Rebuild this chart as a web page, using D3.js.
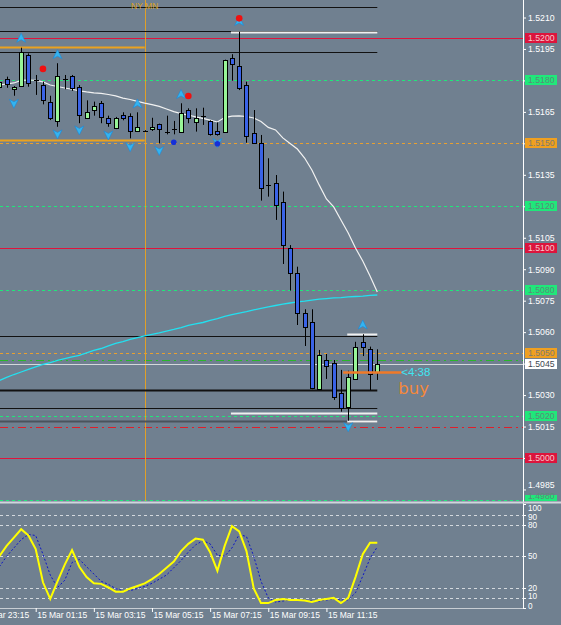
<!DOCTYPE html>
<html><head><meta charset="utf-8">
<script src="https://cdn.jsdelivr.net/npm/d3@7"></script>
<style>html,body{margin:0;padding:0;background:#708090;overflow:hidden}svg{display:block}</style>
</head><body><svg id="c" width="561" height="625"></svg>
<script>
// ---------- DATA (M15 bars, 15 Mar 00:00 .. 13:00) ----------
const open  = [1.51767,1.51807,1.51759,1.51775,1.51921,1.51802,1.51778,1.51696,1.51607,1.51807,1.51821,1.51769,1.51619,1.51658,1.51691,1.51619,1.51575,1.51635,1.51630,1.51559,1.51561,1.51567,1.51591,1.51556,1.51568,1.51556,1.51658,1.51603,1.51632,1.51607,1.51558,1.51556,1.51906,1.51869,1.51778,1.51548,1.51500,1.51302,1.51310,1.51219,1.51000,1.50881,1.50690,1.50650,1.50328,1.50467,1.50451,1.50308,1.50245,1.50375,1.50552,1.50518,1.50411];
const high  = [1.51802,1.51818,1.51773,1.51956,1.51929,1.51826,1.51794,1.51727,1.51882,1.51826,1.51826,1.51778,1.51705,1.51699,1.51702,1.51632,1.51626,1.51648,1.51643,1.51648,1.51563,1.51622,1.51594,1.51632,1.51607,1.51691,1.51667,1.51667,1.51670,1.51610,1.51600,1.51899,1.51925,1.52032,1.51794,1.51659,1.51540,1.51429,1.51349,1.51270,1.51015,1.50912,1.50709,1.50709,1.50515,1.50496,1.50467,1.50420,1.50416,1.50554,1.50590,1.50531,1.50518];
const low   = [1.51759,1.51765,1.51727,1.51775,1.51770,1.51731,1.51686,1.51611,1.51579,1.51758,1.51750,1.51596,1.51616,1.51632,1.51596,1.51579,1.51568,1.51610,1.51524,1.51556,1.51556,1.51559,1.51500,1.51543,1.51543,1.51553,1.51596,1.51556,1.51588,1.51537,1.51537,1.51553,1.51799,1.51754,1.51503,1.51500,1.51227,1.51246,1.51135,1.50925,1.50798,1.50634,1.50534,1.50328,1.50324,1.50377,1.50277,1.50221,1.50178,1.50373,1.50486,1.50324,1.50372];
const close = [1.51794,1.51784,1.51770,1.51934,1.51786,1.51800,1.51705,1.51619,1.51821,1.51805,1.51765,1.51635,1.51648,1.51680,1.51627,1.51596,1.51622,1.51622,1.51559,1.51578,1.51559,1.51578,1.51568,1.51554,1.51566,1.51646,1.51619,1.51619,1.51631,1.51543,1.51543,1.51897,1.51878,1.51763,1.51535,1.51504,1.51286,1.51300,1.51206,1.51015,1.50883,1.50693,1.50626,1.50334,1.50489,1.50439,1.50289,1.50237,1.50388,1.50528,1.50528,1.50400,1.50450];
const maFast = [1.51778,1.51783,1.51788,1.51800,1.51802,1.51800,1.51793,1.51778,1.51771,1.51764,1.51758,1.51750,1.51745,1.51741,1.51738,1.51733,1.51726,1.51716,1.51709,1.51700,1.51692,1.51685,1.51676,1.51664,1.51651,1.51642,1.51635,1.51626,1.51619,1.51611,1.51602,1.51623,1.51630,1.51631,1.51628,1.51621,1.51604,1.51576,1.51564,1.51526,1.51499,1.51473,1.51430,1.51373,1.51302,1.51235,1.51197,1.51135,1.51073,1.51001,1.50939,1.50868,1.50791];
const maSlow = [1.50369,1.50384,1.50398,1.50410,1.50422,1.50434,1.50446,1.50455,1.50465,1.50474,1.50482,1.50489,1.50501,1.50513,1.50522,1.50534,1.50546,1.50555,1.50565,1.50574,1.50582,1.50589,1.50596,1.50605,1.50613,1.50622,1.50632,1.50639,1.50646,1.50656,1.50665,1.50675,1.50684,1.50691,1.50698,1.50706,1.50713,1.50720,1.50727,1.50734,1.50739,1.50744,1.50748,1.50753,1.50757,1.50760,1.50763,1.50765,1.50768,1.50770,1.50772,1.50775,1.50777];
const stochMain = [50,60,68,76,70,57,25,9,26,42,56,40,30,24,23.5,20,16,16,19,21.5,24,28,33,39,45,55,62,67,66,54,36,60,79,74,55,19,5,5,8,9,8,8,7.5,6,8,9,10,5,10,30,52,63,63];
const stochSignal = [40,50,58,66,71,70,52,32,20,27,44,47,40,33,26,23,19,17,17,19,21,24,28,32,39,46,54,61,65,62,51,50,58,71,69,50,26,10,6,7,8,8,8,7,7,8,9,8,8,15,31,48,59];

const timeTickBars   = [-3,5,13,21,29,37,45];
const timeTickLabels = ["14 Mar 23:15","15 Mar 01:15","15 Mar 03:15","15 Mar 05:15","15 Mar 07:15","15 Mar 09:15","15 Mar 11:15"];
const priceTicks = [1.5210,1.5195,1.5180,1.5165,1.5150,1.5135,1.5120,1.5105,1.5090,1.5075,1.5060,1.5045,1.5030,1.5015,1.5000,1.4985];
const stochLevels = [90,80,50,20,10];
const stochLabels = [100,90,80,50,20,10,0];

// horizontal objects
const blackLevels = [1.52152,1.52035,1.51936,1.50582,1.50322,1.50236];
const greyLevel = 1.50178;
const whiteLevels = [1.52032,1.50590,1.50216,1.50178];
const whiteFromBar = [32,48,32,48];
const orangeSolidLevels = [1.51959,1.51518];
const greenDashLevels = [1.5180,1.5120,1.5080,1.5020,1.4980];
const orangeDashLevels = [1.5150,1.5050];
const redLevels = [1.5200,1.5100,1.5000];
const greenDashDot = 1.50467;
const redDashDot = 1.50146;
const bid = 1.50450;
const tradeLevel = 1.50409, tradeFrom = 47.3, tradeTo = 55.3;
const nyBar = 20;
const objEndBar = 52;

const upArrows   = [[3,1.52001],[8,1.51923],[19,1.51688],[25,1.51733],[33,1.52081],[50,1.50634]];
const downArrows = [[2,1.51691],[8,1.51545],[11,1.51564],[15,1.51540],[18,1.51484],[22,1.51466],[30,1.51504],[48,1.50149]];
const redDots  = [[6,1.51855],[26,1.51726],[33,1.52096]];
const blueDots = [[24,1.51505],[30,1.51498]];

// ---------- DRAWING ----------
const BG = "#708090";
const svg = d3.select("#c");
svg.append("rect").attr("width",561).attr("height",625).attr("fill",BG);
const axisX = 523, mainBottom = 501, subTop = 504, subBottom = 608;

const x  = d3.scaleLinear().domain([0,52]).range([-0.65,377.3]);
const y  = d3.scaleLinear().domain([1.5000,1.5210]).range([458,17.5]);
const ys = d3.scaleLinear().domain([0,100]).range([608.3,504.3]);

const defs = svg.append("defs");
defs.append("clipPath").attr("id","cm").append("rect").attr("x",0).attr("y",0).attr("width",axisX).attr("height",mainBottom);
defs.append("clipPath").attr("id","cs").append("rect").attr("x",0).attr("y",subTop).attr("width",axisX).attr("height",subBottom-subTop);
defs.append("clipPath").attr("id","cl").append("rect").attr("x",0).attr("y",0).attr("width",561).attr("height",mainBottom);

const main = svg.append("g").attr("clip-path","url(#cm)");
const py = p => Math.round(y(p)) + 0.5;

function hline(g, p, x1, x2, color, w, dash){
  const l = g.append("line").attr("x1",x1).attr("x2",x2).attr("y1",py(p)).attr("y2",py(p))
    .attr("stroke",color).attr("stroke-width",w);
  if (dash) l.attr("stroke-dasharray",dash);
  return l;
}
greenDashLevels.forEach(p=>hline(main,p,0,axisX,"#1fe87a",1,"3,3"));
orangeDashLevels.forEach(p=>hline(main,p,0,axisX,"#e8a030",1,"3,3"));
redLevels.forEach(p=>hline(main,p,0,axisX,"#e0143c",1));
hline(main,greenDashDot,0,axisX,"#28b828",1,"8,4,2,4");
hline(main,redDashDot,0,axisX,"#e01e2a",1,"8,4,2,4");
main.append("line").attr("x1",Math.round(x(nyBar))+0.5).attr("x2",Math.round(x(nyBar))+0.5)
  .attr("y1",0).attr("y2",mainBottom).attr("stroke","#e0a028").attr("stroke-width",1);
blackLevels.forEach((p,i)=>hline(main,p,0,x(objEndBar),"#111",i===4?2:1));
hline(main,greyLevel,0,x(objEndBar),"#4a535c",2);
orangeSolidLevels.forEach(p=>hline(main,p,0,x(nyBar),"#eba21e",2));
whiteLevels.forEach((p,i)=>hline(main,p,x(whiteFromBar[i])-1,x(objEndBar),"#f0f0f0",2));
hline(main,bid,0,axisX,"#d4d8dc",1);

const idx = d3.range(open.length);
const lineGen = arr => d3.line().x(i=>x(i)).y(i=>y(arr[i]))(idx);
main.append("path").attr("d",lineGen(maSlow)).attr("fill","none").attr("stroke","#22e0f0").attr("stroke-width",1.3);
main.append("path").attr("d",lineGen(maFast)).attr("fill","none").attr("stroke","#f2f2f2").attr("stroke-width",1.2);

idx.forEach(i=>{
  const cx = Math.round(x(i));
  main.append("line").attr("x1",cx+0.5).attr("x2",cx+0.5).attr("y1",y(high[i])).attr("y2",y(low[i]))
    .attr("stroke","#000").attr("stroke-width",1);
  const o=open[i], c=close[i];
  if (Math.abs(c-o) < 0.000025){
    main.append("line").attr("x1",cx-2).attr("x2",cx+3).attr("y1",py(o)).attr("y2",py(o)).attr("stroke","#000");
  } else {
    const top = Math.round(y(Math.max(o,c))), bot = Math.round(y(Math.min(o,c)));
    main.append("rect").attr("x",cx-1.5).attr("y",top+0.5).attr("width",4).attr("height",Math.max(1,bot-top))
      .attr("fill", c>o ? "#98f598" : "#3a63e6").attr("stroke","#000").attr("stroke-width",1);
  }
});

main.append("line").attr("x1",x(tradeFrom)).attr("x2",x(tradeTo)).attr("y1",py(tradeLevel)).attr("y2",py(tradeLevel))
  .attr("stroke","#f07a28").attr("stroke-width",2.5);
main.append("text").attr("x",x(tradeTo)).attr("y",y(tradeLevel)+4).text("<4:38")
  .attr("font-family","Liberation Sans, Arial, sans-serif").attr("font-size",11.5).attr("fill","#3fe6f2");
main.append("text").attr("x",x(tradeTo)-3).attr("y",y(tradeLevel)+22).text("buy")
  .attr("font-family","DejaVu Sans, sans-serif").attr("font-size",16.5).attr("fill","#f4883a");

const arrowUp = "M0,-5L4.5,4L0,1.5L-4.5,4Z", arrowDown = "M0,5L4.5,-4L0,-1.5L-4.5,-4Z";
upArrows.forEach(([b,p])=>main.append("path").attr("d",arrowUp).attr("transform",`translate(${x(b)},${y(p)})`)
  .attr("fill","#34b4f0").attr("stroke","#1b88d8").attr("stroke-width",0.6));
downArrows.forEach(([b,p])=>main.append("path").attr("d",arrowDown).attr("transform",`translate(${x(b)},${y(p)})`)
  .attr("fill","#34b4f0").attr("stroke","#1b88d8").attr("stroke-width",0.6));
redDots.forEach(([b,p])=>main.append("circle").attr("cx",x(b)).attr("cy",y(p)).attr("r",3.3).attr("fill","#f01010"));
blueDots.forEach(([b,p])=>main.append("circle").attr("cx",x(b)).attr("cy",y(p)).attr("r",2.8).attr("fill","#1530d8"));

main.append("text").attr("x",x(nyBar)).attr("y",9).attr("text-anchor","middle").text("NY MN")
  .attr("font-family","Liberation Sans, Arial, sans-serif").attr("font-size",8.5).attr("fill","#d8a21c");

// ---------- right price axis ----------
const font = "Liberation Sans, Arial, sans-serif";
const axisG = svg.append("g").attr("transform",`translate(${axisX},0)`).attr("clip-path","url(#cl)");
axisG.call(d3.axisRight(y).tickValues(priceTicks).tickFormat(d3.format(".4f")).tickSize(3).tickPadding(2));
axisG.select(".domain").remove();
axisG.selectAll(".tick line").attr("stroke","#fff");
axisG.selectAll(".tick text").attr("fill","#fff").attr("font-family",font).attr("font-size",8.7);
axisG.selectAll(".tick").filter(d=>Math.abs(d-1.4985)<1e-6).select("text").attr("dy","-0.2em");

const labelG = svg.append("g").attr("clip-path","url(#cl)");
function levelLabel(p, bg, fg){
  const yy = Math.round(y(p));
  labelG.append("rect").attr("x",525).attr("y",yy-5).attr("width",32).attr("height",10).attr("fill",bg);
  labelG.append("text").attr("x",528).attr("y",Math.min(yy+3,499)).text(d3.format(".4f")(p))
    .attr("font-family",font).attr("font-size",8.7).attr("fill",fg);
}
redLevels.forEach(p=>levelLabel(p,"#dc143c","#f6c8cc"));
greenDashLevels.forEach(p=>levelLabel(p,"#1fe87a","#5d8a78"));
orangeDashLevels.forEach(p=>levelLabel(p,"#f0a020","#7d7a70"));
levelLabel(bid,"#ffffff","#404850");

svg.append("line").attr("x1",axisX+0.5).attr("x2",axisX+0.5).attr("y1",0).attr("y2",subBottom).attr("stroke","#fff");

svg.append("line").attr("x1",0).attr("x2",561).attr("y1",502.5).attr("y2",502.5).attr("stroke","#d0d6dc").attr("stroke-width",2);

// ---------- stochastic subwindow ----------
const sub = svg.append("g").attr("clip-path","url(#cs)");
stochLevels.forEach(v=>sub.append("line").attr("x1",0).attr("x2",axisX).attr("y1",Math.round(ys(v))+0.5).attr("y2",Math.round(ys(v))+0.5)
  .attr("stroke","#d4d9de").attr("stroke-dasharray","3,3"));
sub.append("path").attr("d",d3.line().x(i=>x(i)).y(i=>ys(stochSignal[i]))(idx)).attr("fill","none")
  .attr("stroke","#0a14c8").attr("stroke-width",1).attr("stroke-dasharray","2,2");
sub.append("path").attr("d",d3.line().x(i=>x(i)).y(i=>ys(stochMain[i]))(idx)).attr("fill","none")
  .attr("stroke","#ffff00").attr("stroke-width",2);

stochLabels.forEach(v=>{
  const yy = Math.min(Math.max(ys(v),507.5),606) + (v===90?2.5:0) + (v===10?-2:0);
  svg.append("line").attr("x1",axisX).attr("x2",axisX+3).attr("y1",Math.round(ys(v))+0.5).attr("y2",Math.round(ys(v))+0.5).attr("stroke","#fff");
  svg.append("text").attr("x",528).attr("y",yy+3).text(v).attr("font-family",font).attr("font-size",8.2).attr("fill","#fff");
});

// ---------- time axis ----------
svg.append("line").attr("x1",0).attr("x2",axisX).attr("y1",subBottom+0.5).attr("y2",subBottom+0.5).attr("stroke","#c8ced4");
const xAxisG = svg.append("g").attr("transform",`translate(0,${subBottom})`);
xAxisG.call(d3.axisBottom(x).tickValues(timeTickBars).tickFormat((d,i)=>timeTickLabels[i]).tickSize(4).tickPadding(1));
xAxisG.select(".domain").remove();
xAxisG.selectAll(".tick line").attr("stroke","#fff");
xAxisG.selectAll(".tick text").attr("fill","#fff").attr("font-family",font).attr("font-size",8.5)
  .attr("text-anchor","start").attr("dx",1).attr("dy","0.55em");
</script></body></html>
